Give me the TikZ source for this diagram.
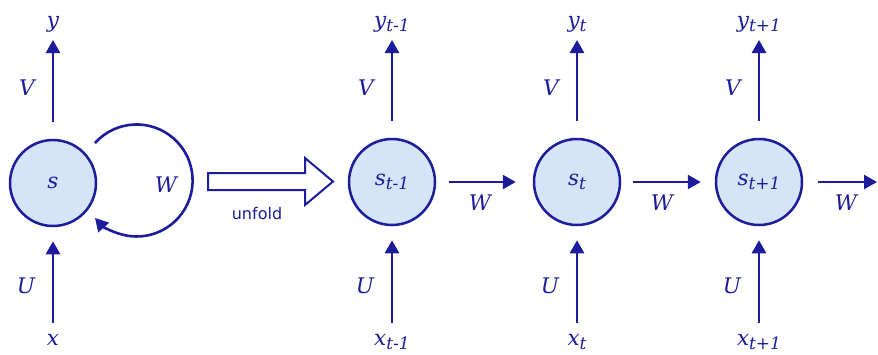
\documentclass[tikz,border=0pt]{standalone}
\usepackage{fontspec}
\setmainfont{DejaVu Serif}
\newfontfamily\sansf{DejaVu Sans}
\usetikzlibrary{arrows.meta}
\definecolor{dblue}{RGB}{28,28,156}
\definecolor{lblue}{RGB}{214,228,248}
\newcommand\labfont{\fontsize{21.5}{24}\selectfont\itshape}
\newcommand\subsc[1]{\raisebox{-4pt}{\fontsize{17}{18}\selectfont #1}}
\begin{document}
\begin{tikzpicture}[x=1pt,y=-1pt,
 cell/.style={circle, draw=dblue, fill=lblue, line width=2.5pt, minimum size=86pt, inner sep=0pt, text=dblue, font=\labfont},
 lbl/.style={text=dblue, font=\labfont, inner sep=0pt, anchor=base},
 arr/.style={draw=dblue, line width=2.6pt, -{Triangle[length=13pt,width=14pt]}},
]
\useasboundingbox (0,0) rectangle (878,354);
% cells
\node[cell] (s0) at (53,183) {s};
\node[cell] (s1) at (392,182) {s\subsc{t-1}};
\node[cell] (s2) at (577,182) {s\subsc{t}};
\node[cell] (s3) at (759,182) {s\subsc{t+1}};
% output / input labels
\node[lbl] (y0) at (53,27) {y};
\node[lbl] (y1) at (392,27) {y\subsc{t-1}};
\node[lbl] (y2) at (577,27) {y\subsc{t}};
\node[lbl] (y3) at (759,27) {y\subsc{t+1}};
\node[lbl] (x0) at (53,345) {x};
\node[lbl] (x1) at (392,345) {x\subsc{t-1}};
\node[lbl] (x2) at (577,345) {x\subsc{t}};
\node[lbl] (x3) at (759,345) {x\subsc{t+1}};
% arrow end coordinates
\foreach \i/\xx in {0/53,1/392,2/577,3/759}{
  \coordinate (yt\i) at (\xx,40);
  \coordinate (xb\i) at (\xx,323);
}
\foreach \i in {0,1,2,3}{
  \draw[arr, shorten <=17pt] (s\i.north) -- (yt\i);
  \draw[arr, shorten >=14pt] (xb\i) -- (s\i.south);
}
% V and U labels
\foreach \i/\xx in {0/53,1/392,2/577,3/759}{
  \node[lbl] (v\i) at (\xx-26,95) {V};
  \node[lbl] (u\i) at (\xx-27,293) {U};
}
% horizontal W arrows
\draw[arr, shorten <=13pt, shorten >=17pt] (s1) -- (s2);
\draw[arr, shorten <=12pt, shorten >=14pt] (s2) -- (s3);
\coordinate (wend) at (877,182);
\draw[arr, shorten <=15pt] (s3) -- (wend);
\node[lbl] (w1) at (480,210) {W};
\node[lbl] (w2) at (662,210) {W};
\node[lbl] (w3) at (846,210) {W};
% self loop
\coordinate (ls) at (95,143);
\draw[arr] (ls) arc[start angle=-138, end angle=138, radius=56];
\node[lbl] (w0) at (166,192) {W};
% unfold arrow
\draw[dblue, line width=2pt, fill=white, line join=miter]
  (208,173) -- (305,173) -- (305,158) -- (333,181.5) -- (305,205) -- (305,190) -- (208,190) -- cycle;
\node[text=dblue, font=\sansf\fontsize{16}{18}\selectfont, inner sep=0pt] (unf) at (257,214) {unfold};
\end{tikzpicture}
\end{document}
